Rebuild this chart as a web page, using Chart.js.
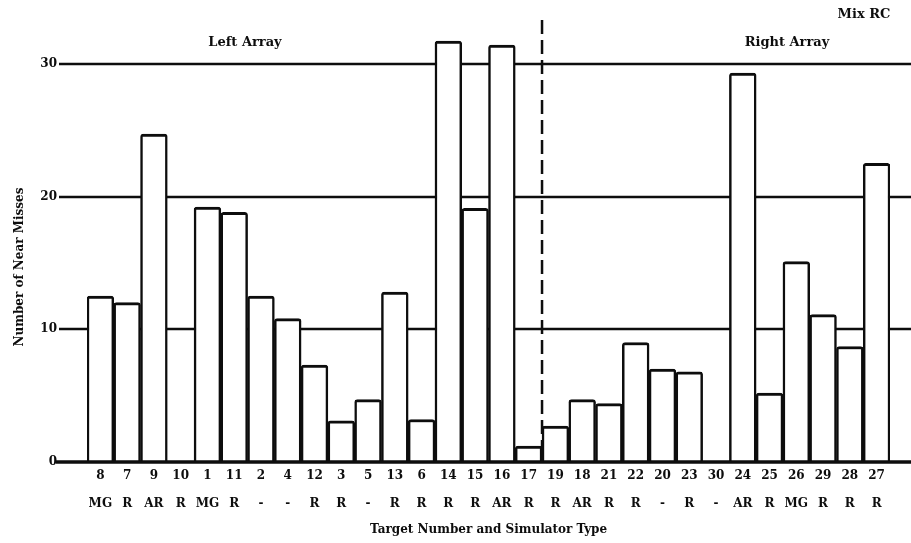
<!DOCTYPE html>
<html>
<head>
<meta charset="utf-8">
<script src="https://cdn.jsdelivr.net/npm/chart.js@4.4.1/dist/chart.umd.min.js"></script>
<style>
  html, body { margin: 0; padding: 0; background: #fff; }
  #wrap { width: 911px; height: 543px; }
</style>
</head>
<body>
<div id="wrap"><canvas id="nearMissChart" width="911" height="543"></canvas></div>
<script>
// targets in the order they appear, left array first (17), then right array
var targetNumbers = ['8','7','9','10','1','11','2','4','12','3','5','13','6','14','15','16','17',
                     '19','18','21','22','20','23','30','24','25','26','29','28','27'];
var simulatorTypes = ['MG','R','AR','R','MG','R','-','-','R','R','-','R','R','R','R','AR','R',
                      'R','AR','R','R','-','R','-','AR','R','MG','R','R','R'];
var nearMisses = [12.5, 12.0, 24.7, 0, 19.2, 18.8, 12.5, 10.8, 7.3, 3.1, 4.7, 12.8, 3.2, 31.7, 19.1, 31.4, 1.2,
                  2.7, 4.7, 4.4, 9.0, 7.0, 6.8, 0, 29.3, 5.2, 15.1, 11.1, 8.7, 22.5];
var yTicks = [0, 10, 20, 30];
var leftArrayCount = 17;

var ink = '#0d0d0d';
var fontFamily = '"DejaVu Serif", "Liberation Serif", serif';

// gridlines run past the bars on both sides, bars are drawn over them
var arrayMarks = {
    id: 'arrayMarks',
    beforeDatasetsDraw: function(chart) {
        var ctx = chart.ctx, yScale = chart.scales.y;
        ctx.save();
        ctx.strokeStyle = ink;
        ctx.lineWidth = 2.5;
        yTicks.forEach(function(v) {
            if (v === 0) return;
            var py = Math.round(yScale.getPixelForValue(v));
            ctx.beginPath();
            ctx.moveTo(59, py);
            ctx.lineTo(chart.width, py);
            ctx.stroke();
        });
        ctx.restore();
    },
    afterDatasetsDraw: function(chart) {
        var ctx = chart.ctx, xScale = chart.scales.x, yScale = chart.scales.y;
        ctx.save();
        // zero line
        var y0 = yScale.getPixelForValue(0);
        ctx.strokeStyle = ink;
        ctx.lineWidth = 3.5;
        ctx.beginPath();
        ctx.moveTo(56, y0);
        ctx.lineTo(chart.width, y0);
        ctx.stroke();

        // dashed divider between left and right array
        var xDiv = (xScale.getPixelForValue(leftArrayCount - 1) + xScale.getPixelForValue(leftArrayCount)) / 2;
        ctx.lineWidth = 2.5;
        ctx.setLineDash([14, 6]);
        ctx.beginPath();
        ctx.moveTo(xDiv, 20);
        ctx.lineTo(xDiv, y0);
        ctx.stroke();
        ctx.setLineDash([]);

        // labels
        ctx.fillStyle = ink;
        ctx.font = 'bold 13px ' + fontFamily;
        ctx.textAlign = 'center';
        ctx.textBaseline = 'middle';
        ctx.fillText('Left Array', 245, 43);
        ctx.fillText('Right Array', 787, 43);
        ctx.fillText('Mix RC', 864, 15);

        ctx.translate(20, 267);
        ctx.rotate(-Math.PI / 2);
        ctx.font = 'bold 12px ' + fontFamily;
        ctx.fillText('Number of Near Misses', 0, 0);
        ctx.restore();
    }
};

var data = {
    labels: targetNumbers.map(function(n, i) { return [n, simulatorTypes[i]]; }),
    datasets: [{
        label: 'Near Misses',
        data: nearMisses,
        backgroundColor: '#fff',
        borderColor: ink,
        borderWidth: { top: 3, left: 2.5, right: 2.5, bottom: 0 },
        borderSkipped: 'bottom',
        borderRadius: { topLeft: 3, topRight: 3 },
        barPercentage: 1,
        categoryPercentage: 1
    }]
};

var options = {
    responsive: false,
    animation: false,
    layout: { padding: { left: 0, right: 21, top: 35, bottom: 0 } },
    plugins: {
        legend: { display: false },
        tooltip: { enabled: false }
    },
    scales: {
        x: {
            grid: { display: false, drawTicks: false },
            border: { display: false },
            ticks: {
                autoSkip: false,
                maxRotation: 0,
                padding: 0,
                color: ink,
                font: { family: fontFamily, size: 12, weight: 'bold', lineHeight: 2.3 }
            },
            title: {
                display: true,
                text: 'Target Number and Simulator Type',
                color: ink,
                padding: { top: 6, bottom: 6 },
                font: { family: fontFamily, size: 12, weight: 'bold', lineHeight: 1.2 }
            },
            afterFit: function(scale) { scale.height = 81; }
        },
        y: {
            min: 0,
            max: 32,
            grid: { display: false, drawTicks: false },
            border: { display: false },
            afterBuildTicks: function(scale) {
                scale.ticks = yTicks.map(function(v) { return { value: v }; });
            },
            ticks: {
                padding: 30,
                color: ink,
                font: { family: fontFamily, size: 12, weight: 'bold' }
            },
            afterFit: function(scale) { scale.width = 87; }
        }
    }
};

var ctx = document.getElementById('nearMissChart').getContext('2d');
var chart = new Chart(ctx, {
    type: 'bar',
    data: data,
    options: options,
    plugins: [arrayMarks]
});
</script>
</body>
</html>
